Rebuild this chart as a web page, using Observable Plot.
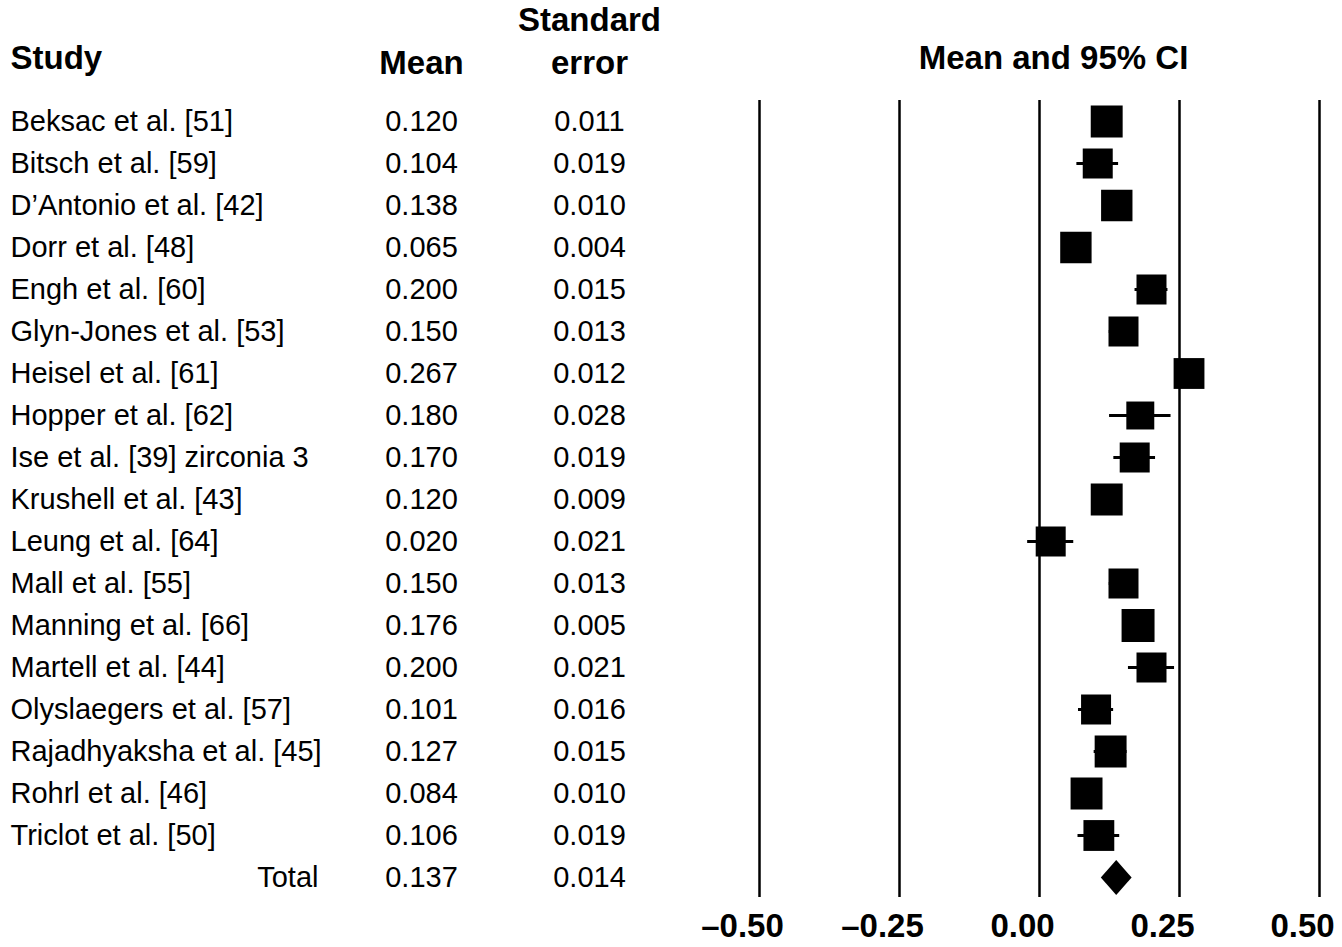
<!DOCTYPE html>
<html>
<head>
<meta charset="utf-8">
<script src="https://cdn.jsdelivr.net/npm/d3@7"></script>
<script src="https://cdn.jsdelivr.net/npm/@observablehq/plot@0.6"></script>
<style>
  html, body { margin: 0; padding: 0; background: #fff; overflow: hidden; }
  svg { display: block; }
</style>
</head>
<body>
<div id="chart"></div>
<script>
// ---- data ----
const studies = [
  "Beksac et al. [51]", "Bitsch et al. [59]", "D\u2019Antonio et al. [42]", "Dorr et al. [48]",
  "Engh et al. [60]", "Glyn-Jones et al. [53]", "Heisel et al. [61]", "Hopper et al. [62]",
  "Ise et al. [39] zirconia 3", "Krushell et al. [43]", "Leung et al. [64]", "Mall et al. [55]",
  "Manning et al. [66]", "Martell et al. [44]", "Olyslaegers et al. [57]",
  "Rajadhyaksha et al. [45]", "Rohrl et al. [46]", "Triclot et al. [50]"
];
const means = [0.120, 0.104, 0.138, 0.065, 0.200, 0.150, 0.267, 0.180, 0.170,
               0.120, 0.020, 0.150, 0.176, 0.200, 0.101, 0.127, 0.084, 0.106];
const stdErrors = [0.011, 0.019, 0.010, 0.004, 0.015, 0.013, 0.012, 0.028, 0.019,
                   0.009, 0.021, 0.013, 0.005, 0.021, 0.016, 0.015, 0.010, 0.019];
// relative weights (%), estimated from square sizes
const weights = [6.0, 5.3, 5.8, 5.8, 5.3, 5.3, 5.6, 4.6, 5.3,
                 6.0, 5.3, 5.3, 6.4, 5.3, 5.3, 6.0, 6.0, 5.6];
const totalLabel = "Total";
const totalMean = 0.137;
const totalSE = 0.014;
const tickValues = [-0.5, -0.25, 0, 0.25, 0.5];
const tickLabels = ["\u20130.50", "\u20130.25", "0.00", "0.25", "0.50"];
const headers = {study: "Study", mean: "Mean", se1: "Standard", se2: "error", ci: "Mean and 95% CI"};

// ---- build tables ----
const rows = studies.map((s, i) => ({study: s, mean: means[i], se: stdErrors[i], weight: weights[i]}));
const total = [{study: totalLabel, mean: totalMean, se: totalSE}];
const allRows = rows.concat(total);
const fmt = d3.format(".3f");
const tickLabelMap = new Map(tickValues.map((v, i) => [v, tickLabels[i]]));

// diamond symbol (slightly taller than wide)
const diamond = {
  draw(context, size) {
    const r = Math.sqrt(size / Math.PI);
    const hw = r * 0.88, hh = r;
    context.moveTo(0, -hh);
    context.lineTo(hw, 0);
    context.lineTo(0, hh);
    context.lineTo(-hw, 0);
    context.closePath();
  }
};

const W = 1342, H = 947;
const ML = 759, MR = 23, MT = 100, MB = 50;
const FONT = "'Liberation Sans', Arial, Helvetica, sans-serif";
const TXT = 29, HDR = 33, TICK = 33;

const chart = Plot.plot({
  width: W,
  height: H,
  marginLeft: ML,
  marginRight: MR,
  marginTop: MT,
  marginBottom: MB,
  style: {fontFamily: FONT, background: "white", color: "black", overflow: "visible"},
  x: {domain: [-0.5, 0.5]},
  y: {type: "point", domain: allRows.map(d => d.study), range: [120, 878], padding: 0, axis: null},
  r: {type: "sqrt", domain: [0, 6.4], range: [0, 18.6]},
  marks: [
    // vertical reference lines
    Plot.ruleX(tickValues, {stroke: "black", strokeWidth: 2.5}),
    // confidence intervals
    Plot.ruleY(rows, {
      y: "study",
      x1: d => d.mean - 1.96 * d.se,
      x2: d => d.mean + 1.96 * d.se,
      stroke: "black",
      strokeWidth: 3
    }),
    // study squares
    Plot.dot(rows, {x: "mean", y: "study", r: "weight", symbol: "square", fill: "black", stroke: "none"}),
    // total diamond
    Plot.dot(total, {x: "mean", y: "study", r: 17.5, symbol: diamond, fill: "black", stroke: "none"}),
    // x axis labels
    Plot.axisX({
      ticks: tickValues,
      tickFormat: d => tickLabelMap.get(d),
      tickSize: 0,
      tickPadding: 16,
      fontSize: TICK,
      fontWeight: "bold",
      dx: -17,
      label: null,
      fill: "black"
    }),
    // table: study names
    Plot.text(rows, {y: "study", text: "study", frameAnchor: "left", dx: 10 - ML, textAnchor: "start", fontSize: TXT, fill: "black"}),
    Plot.text(total, {y: "study", text: "study", frameAnchor: "left", dx: 318 - ML, textAnchor: "end", fontSize: TXT, fill: "black"}),
    // table: means
    Plot.text(allRows, {y: "study", text: d => fmt(d.mean), frameAnchor: "left", dx: 421 - ML, textAnchor: "middle", fontSize: TXT, fill: "black"}),
    // table: standard errors
    Plot.text(allRows, {y: "study", text: d => fmt(d.se), frameAnchor: "left", dx: 589 - ML, textAnchor: "middle", fontSize: TXT, fill: "black"}),
    // headers
    Plot.text([headers.study], {frameAnchor: "top-left", lineAnchor: "middle", dx: 10 - ML, dy: 58 - MT, textAnchor: "start", fontSize: HDR, fontWeight: "bold", fill: "black"}),
    Plot.text([headers.mean], {frameAnchor: "top-left", lineAnchor: "middle", dx: 421 - ML, dy: 63 - MT, textAnchor: "middle", fontSize: HDR, fontWeight: "bold", fill: "black"}),
    Plot.text([headers.se1], {frameAnchor: "top-left", lineAnchor: "middle", dx: 589 - ML, dy: 20 - MT, textAnchor: "middle", fontSize: HDR, fontWeight: "bold", fill: "black"}),
    Plot.text([headers.se2], {frameAnchor: "top-left", lineAnchor: "middle", dx: 589 - ML, dy: 63 - MT, textAnchor: "middle", fontSize: HDR, fontWeight: "bold", fill: "black"}),
    Plot.text([headers.ci], {frameAnchor: "top-left", lineAnchor: "middle", dx: 1053 - ML, dy: 58 - MT, textAnchor: "middle", fontSize: HDR, fontWeight: "bold", fill: "black"})
  ]
});
document.getElementById("chart").appendChild(chart);
</script>
</body>
</html>
